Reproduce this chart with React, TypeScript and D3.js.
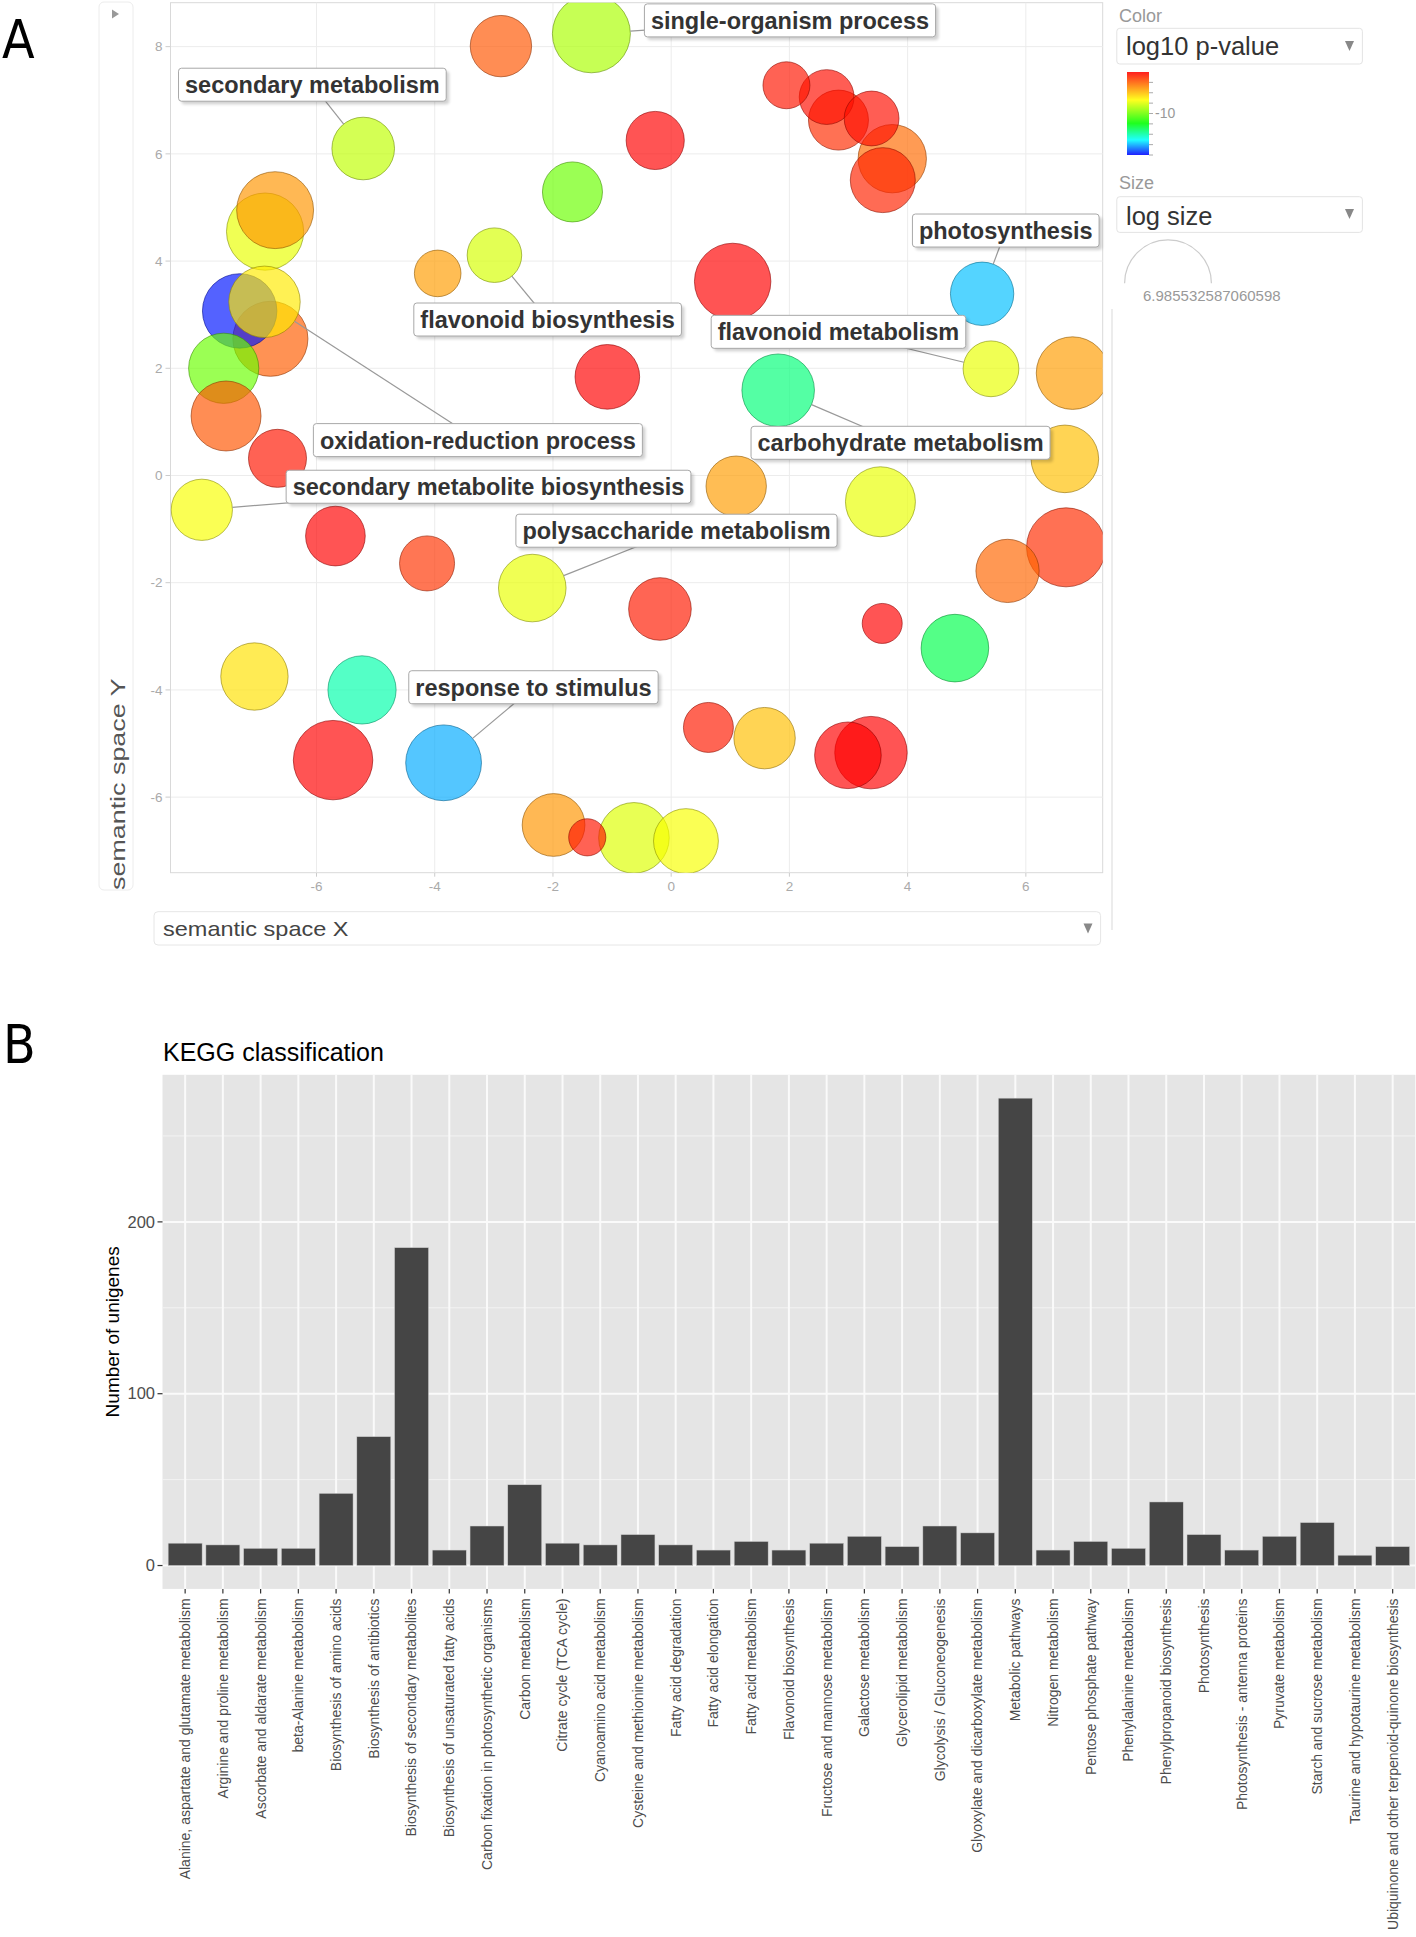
import React from 'react';
import * as d3 from 'd3';

// ---------------- Panel A data (REVIGO semantic space) ----------------
const termX = [-2.88, -1.35, -5.21, -0.27, -1.67, -6.70, -6.87, -3.95, -2.99, -7.30, -6.88, -6.78, -7.57, -7.53, -6.66, 1.04, -1.08, 1.95, 2.63, 2.83, 3.39, 3.74, 3.58, 5.26, 5.41, 6.79, 1.81, 6.66, 1.10, 3.54, 5.69, 6.68, -0.19, 3.57, 4.80, 0.63, 1.58, 2.99, 3.38, -0.63, 0.25, -1.99, -1.42, -3.85, -5.72, -5.23, -7.05, -7.94, -5.68, -4.13, -2.35];
const termY = [8.01, 8.24, 6.10, 6.25, 5.29, 4.95, 4.55, 3.77, 4.11, 3.07, 3.24, 2.55, 2.00, 1.11, 0.32, 3.62, 1.84, 7.28, 7.06, 6.63, 6.66, 5.91, 5.51, 3.39, 1.99, 1.91, 1.59, 0.31, -0.20, -0.49, -1.78, -1.34, -2.49, -2.76, -3.22, -4.70, -4.90, -5.22, -5.17, -6.76, -6.82, -6.52, -6.75, -5.36, -5.31, -4.00, -3.75, -0.64, -1.13, -1.64, -2.10];
const termLogP = [-3.80, -8.90, -8.53, -2.00, -10.03, -5.15, -7.78, -5.33, -8.15, -17.76, -6.95, -3.98, -10.03, -3.80, -2.45, -2.00, -2.00, -2.45, -2.27, -2.90, -2.27, -4.25, -2.72, -15.83, -7.78, -5.33, -13.39, -6.05, -5.33, -7.78, -4.16, -2.90, -2.54, -2.00, -12.86, -2.54, -6.05, -2.00, -2.00, -8.00, -7.55, -5.15, -2.45, -16.07, -2.00, -14.03, -6.77, -7.55, -2.00, -3.08, -7.78];
const termLogSize = [4.94, 6.28, 5.04, 4.68, 4.83, 6.19, 6.21, 3.75, 4.39, 5.99, 5.75, 6.04, 5.65, 5.63, 4.67, 6.15, 5.20, 3.78, 4.41, 4.83, 4.41, 5.50, 5.23, 5.10, 4.49, 5.84, 5.84, 5.44, 4.86, 5.63, 5.09, 6.36, 5.04, 3.22, 5.44, 4.02, 4.94, 5.36, 5.83, 5.68, 5.22, 5.05, 2.99, 6.10, 6.39, 5.49, 5.42, 4.93, 4.80, 4.43, 5.44];

const labelTerm = [1, 2, 8, 10, 47, 50, 43, 23, 24, 26];
const labelText = ['single-organism process', 'secondary metabolism', 'flavonoid biosynthesis', 'oxidation-reduction process', 'secondary metabolite biosynthesis', 'polysaccharide metabolism', 'response to stimulus', 'photosynthesis', 'flavonoid metabolism', 'carbohydrate metabolism'];
const labelX = [2.01, -6.07, -2.09, -3.27, -3.09, 0.09, -2.33, 5.66, 2.83, 3.88];
const labelY = [8.49, 7.29, 2.91, 0.66, -0.21, -1.03, -3.95, 4.57, 2.68, 0.61];

const xTicksA = [-6, -4, -2, 0, 2, 4, 6];
const yTicksA = [-6, -4, -2, 0, 2, 4, 6, 8];
const colorStopValues = [-2, -7.4, -11.9, -15.1, -18];
const colorStopColors = ['#ff0000', '#ffff00', '#00ff00', '#00ffff', '#0000ff'];
const colorBarTicks = [-4, -6, -8, -10, -12, -14, -16, -18];
const maxLogSize = 6.985532587060598;

// ---------------- Panel B data (KEGG classification) ----------------
const keggCategories = [
  'Alanine, aspartate and glutamate metabolism',
  'Arginine and proline metabolism',
  'Ascorbate and aldarate metabolism',
  'beta-Alanine metabolism',
  'Biosynthesis of amino acids',
  'Biosynthesis of antibiotics',
  'Biosynthesis of secondary metabolites',
  'Biosynthesis of unsaturated fatty acids',
  'Carbon fixation in photosynthetic organisms',
  'Carbon metabolism',
  'Citrate cycle (TCA cycle)',
  'Cyanoamino acid metabolism',
  'Cysteine and methionine metabolism',
  'Fatty acid degradation',
  'Fatty acid elongation',
  'Fatty acid metabolism',
  'Flavonoid biosynthesis',
  'Fructose and mannose metabolism',
  'Galactose metabolism',
  'Glycerolipid metabolism',
  'Glycolysis / Gluconeogenesis',
  'Glyoxylate and dicarboxylate metabolism',
  'Metabolic pathways',
  'Nitrogen metabolism',
  'Pentose phosphate pathway',
  'Phenylalanine metabolism',
  'Phenylpropanoid biosynthesis',
  'Photosynthesis',
  'Photosynthesis - antenna proteins',
  'Pyruvate metabolism',
  'Starch and sucrose metabolism',
  'Taurine and hypotaurine metabolism',
  'Ubiquinone and other terpenoid-quinone biosynthesis',
];
const keggCounts = [13, 12, 10, 10, 42, 75, 185, 9, 23, 47, 13, 12, 18, 12, 9, 14, 9, 13, 17, 11, 23, 19, 272, 9, 14, 10, 37, 18, 9, 17, 25, 6, 11];
const yTicksB = [0, 100, 200];
const yMinorB = [50, 150, 250];

const FONT = "'Liberation Sans', Arial, sans-serif";
const PANEL_FONT = "'Liberation Sans Narrow', 'DejaVu Sans Condensed', 'Liberation Sans', sans-serif";

let _ctx: CanvasRenderingContext2D | null = null;
function textWidth(text: string, font: string): number {
  if (!_ctx) _ctx = document.createElement('canvas').getContext('2d');
  if (!_ctx) return text.length * 12;
  _ctx.font = font;
  return _ctx.measureText(text).width;
}

export default function App() {
  // ----- Panel A scales -----
  const A = { left: 170.5, right: 1102.7, top: 2.7, bottom: 872.7 };
  const xA = d3.scaleLinear().domain([-8.47, 7.3]).range([A.left, A.right]);
  const yA = d3.scaleLinear().domain([-7.41, 8.82]).range([A.bottom, A.top]);
  const rA = d3.scaleLinear().domain([0, maxLogSize]).range([0, 43.4]);
  const colorA = d3.scaleLinear<string>().domain(colorStopValues).range(colorStopColors).interpolate(d3.interpolateRgb).clamp(true);
  const cbar = { x: 1127, y: 72, w: 22, h: 83 };
  const cbarY = d3.scaleLinear().domain([-2, -18]).range([cbar.y, cbar.y + cbar.h]);

  const terms = termX.map((x, i) => ({ i, x, y: termY[i], p: termLogP[i], s: termLogSize[i] }));
  const drawOrder = [...terms].sort((a, b) => b.s - a.s);

  const labelFont = `bold 23.5px ${FONT}`;
  const labels = labelText.map((t, k) => {
    const w = textWidth(t, labelFont) + 13;
    const h = 33;
    const cx = xA(labelX[k]);
    const cy = yA(labelY[k]);
    const term = terms[labelTerm[k]];
    const tx = xA(term.x), ty = yA(term.y), tr = rA(term.s);
    const dx = cx - tx, dy = cy - ty;
    const len = Math.sqrt(dx * dx + dy * dy) || 1;
    return { t, w, h, cx, cy, x1: tx + (dx / len) * tr, y1: ty + (dy / len) * tr };
  });

  // ----- Panel B scales -----
  const B = { left: 162.5, right: 1415.3, top: 1074.8, bottom: 1588.9 };
  const xB = d3.scalePoint<string>().domain(keggCategories).range([B.left, B.right]).padding(0.6);
  const stepB = xB.step();
  const yB = d3.scaleLinear().domain([-13.6, 285.6]).range([B.bottom, B.top]);

  return (
    <svg width={1416} height={1937} style={{ position: 'absolute', left: 0, top: 0, display: 'block', background: '#fff' }} fontFamily={FONT}>
      <defs>
        <clipPath id="plotA">
          <rect x={A.left} y={A.top} width={A.right - A.left} height={A.bottom - A.top} />
        </clipPath>
        <linearGradient id="cbarGrad" x1="0" y1="0" x2="0" y2="1">
          {colorStopValues.map((v, k) => (
            <stop key={k} offset={(cbarY(v) - cbar.y) / cbar.h} stopColor={colorStopColors[k]} />
          ))}
        </linearGradient>
        <filter id="boxShadow" x="-10%" y="-30%" width="125%" height="180%">
          <feGaussianBlur stdDeviation="1.5" />
        </filter>
      </defs>

      {/* ================= Panel A ================= */}
      <text x={2} y={58} fontSize={53} fontFamily={PANEL_FONT} fill="#000">A</text>

      {/* left sidebar */}
      <rect x={99} y={2} width={34} height={888} rx={5} fill="#fff" stroke="#ececec" />
      <path d="M112,9.5 L119,14 L112,18.5 Z" fill="#999" />
      <text transform={`translate(124.5,890) rotate(-90) scale(1.28,1)`} fontSize={21} fill="#555">semantic space Y</text>

      {/* plot frame and grid */}
      <rect x={A.left} y={A.top} width={A.right - A.left} height={A.bottom - A.top} fill="#fff" stroke="#d9d9d9" />
      {xTicksA.map(t => (
        <line key={'gx' + t} x1={xA(t)} x2={xA(t)} y1={A.top} y2={A.bottom} stroke="#ececec" strokeWidth={1} />
      ))}
      {yTicksA.map(t => (
        <line key={'gy' + t} x1={A.left} x2={A.right} y1={yA(t)} y2={yA(t)} stroke="#ececec" strokeWidth={1} />
      ))}
      {xTicksA.map(t => (
        <g key={'tx' + t}>
          <line x1={xA(t)} x2={xA(t)} y1={A.bottom} y2={A.bottom + 4} stroke="#ccc" />
          <text x={xA(t)} y={886.7} dy="0.35em" textAnchor="middle" fontSize={13.5} fill="#aaa">{t}</text>
        </g>
      ))}
      {yTicksA.map(t => (
        <g key={'ty' + t}>
          <line x1={A.left - 5} x2={A.left} y1={yA(t)} y2={yA(t)} stroke="#ccc" />
          <text x={A.left - 8} y={yA(t)} dy="0.35em" textAnchor="end" fontSize={13.5} fill="#aaa">{t}</text>
        </g>
      ))}

      {/* bubbles */}
      <g clipPath="url(#plotA)">
        {drawOrder.map(d => {
          const c = colorA(d.p);
          return (
            <circle key={'c' + d.i} cx={xA(d.x)} cy={yA(d.y)} r={rA(d.s)}
              fill={c} fillOpacity={0.67}
              stroke={d3.rgb(c).darker(1.6).formatHex()} strokeOpacity={0.6} strokeWidth={1} />
          );
        })}
      </g>

      {/* labels */}
      {labels.map((l, k) => (
        <line key={'ll' + k} x1={l.x1} y1={l.y1} x2={l.cx} y2={l.cy} stroke="#999" strokeWidth={1.2} />
      ))}
      {labels.map((l, k) => (
        <g key={'lb' + k}>
          <rect x={l.cx - l.w / 2 + 3} y={l.cy - l.h / 2 + 3} width={l.w} height={l.h} rx={3} fill="#000" opacity={0.18} filter="url(#boxShadow)" />
          <rect x={l.cx - l.w / 2} y={l.cy - l.h / 2} width={l.w} height={l.h} rx={3} fill="#fff" stroke="#a8a8a8" strokeWidth={1} />
          <text x={l.cx} y={l.cy} dy="0.36em" textAnchor="middle" fontSize={23.5} fontWeight="bold" fill="#333">{l.t}</text>
        </g>
      ))}

      {/* x title box */}
      <rect x={154} y={911.7} width={946.6} height={33.3} rx={4} fill="#fff" stroke="#e6e6e6" />
      <text transform="translate(163,936) scale(1.12,1)" fontSize={21} fill="#444">semantic space X</text>
      <path d="M1083.5,923.5 L1092.5,923.5 L1088,933.5 Z" fill="#888" />

      {/* right legend */}
      <text x={1119} y={21.5} fontSize={18} fill="#999">Color</text>
      <rect x={1116.8} y={28.3} width={245.6} height={35.7} rx={3} fill="#fff" stroke="#e3e3e3" />
      <text x={1126} y={55} fontSize={25.5} fill="#333">log10 p-value</text>
      <path d="M1345,41 L1354,41 L1349.5,51 Z" fill="#888" />
      <rect x={cbar.x} y={cbar.y} width={cbar.w} height={cbar.h} fill="url(#cbarGrad)" opacity={0.88} />
      {colorBarTicks.map(t => (
        <line key={'cb' + t} x1={cbar.x + cbar.w} x2={cbar.x + cbar.w + 4} y1={cbarY(t)} y2={cbarY(t)} stroke="#aaa" />
      ))}
      <text x={cbar.x + cbar.w + 6} y={cbarY(-10)} dy="0.35em" fontSize={14} fill="#999">-10</text>

      <text x={1119} y={189} fontSize={18} fill="#999">Size</text>
      <rect x={1116.8} y={196.7} width={245.6} height={35.7} rx={3} fill="#fff" stroke="#e3e3e3" />
      <text x={1126} y={224.5} fontSize={25.5} fill="#333">log size</text>
      <path d="M1345,209 L1354,209 L1349.5,219 Z" fill="#888" />
      <path d={`M${1168 - rA(maxLogSize)},283.3 A${rA(maxLogSize)},${rA(maxLogSize)} 0 0 1 ${1168 + rA(maxLogSize)},283.3`} fill="none" stroke="#ccc" strokeWidth={1.2} />
      <text x={1143} y={300.5} fontSize={15} fill="#999">{String(maxLogSize)}</text>
      <line x1={1112} x2={1112} y1={309} y2={930} stroke="#d9d9d9" />

      {/* ================= Panel B ================= */}
      <text x={3} y={1063} fontSize={53} fontFamily={PANEL_FONT} fill="#000">B</text>
      <text x={163} y={1061} fontSize={25} fill="#000">KEGG classification</text>

      <rect x={B.left} y={B.top} width={B.right - B.left} height={B.bottom - B.top} fill="#e5e5e5" />
      {yMinorB.map(t => (
        <line key={'mb' + t} x1={B.left} x2={B.right} y1={yB(t)} y2={yB(t)} stroke="#f3f3f3" strokeWidth={1} />
      ))}
      {yTicksB.map(t => (
        <line key={'gb' + t} x1={B.left} x2={B.right} y1={yB(t)} y2={yB(t)} stroke="#fafafa" strokeWidth={2} />
      ))}
      {keggCategories.map(c => (
        <line key={'vb' + c} x1={xB(c)} x2={xB(c)} y1={B.top} y2={B.bottom} stroke="#fafafa" strokeWidth={2} />
      ))}
      {keggCategories.map((c, k) => (
        <rect key={'bar' + c} x={(xB(c) as number) - stepB * 0.45} width={stepB * 0.9}
          y={yB(keggCounts[k])} height={yB(0) - yB(keggCounts[k])} fill="#454545" stroke="#d0d0d0" strokeWidth={0.5} />
      ))}
      {yTicksB.map(t => (
        <g key={'yb' + t}>
          <line x1={B.left - 5} x2={B.left} y1={yB(t)} y2={yB(t)} stroke="#333" strokeWidth={1.2} />
          <text x={B.left - 7.5} y={yB(t)} dy="0.35em" textAnchor="end" fontSize={16.5} fill="#4d4d4d">{t}</text>
        </g>
      ))}
      {keggCategories.map(c => (
        <g key={'xb' + c}>
          <line x1={xB(c)} x2={xB(c)} y1={B.bottom} y2={B.bottom + 4.5} stroke="#333" strokeWidth={1.2} />
          <text transform={`translate(${xB(c)},${B.bottom + 9.5}) rotate(-90)`} dy="0.35em" textAnchor="end" fontSize={14} fill="#4d4d4d">{c}</text>
        </g>
      ))}
      <text transform={`translate(112,${(B.top + B.bottom) / 2}) rotate(-90)`} dy="0.35em" textAnchor="middle" fontSize={19} fill="#000">Number of unigenes</text>
    </svg>
  );
}
